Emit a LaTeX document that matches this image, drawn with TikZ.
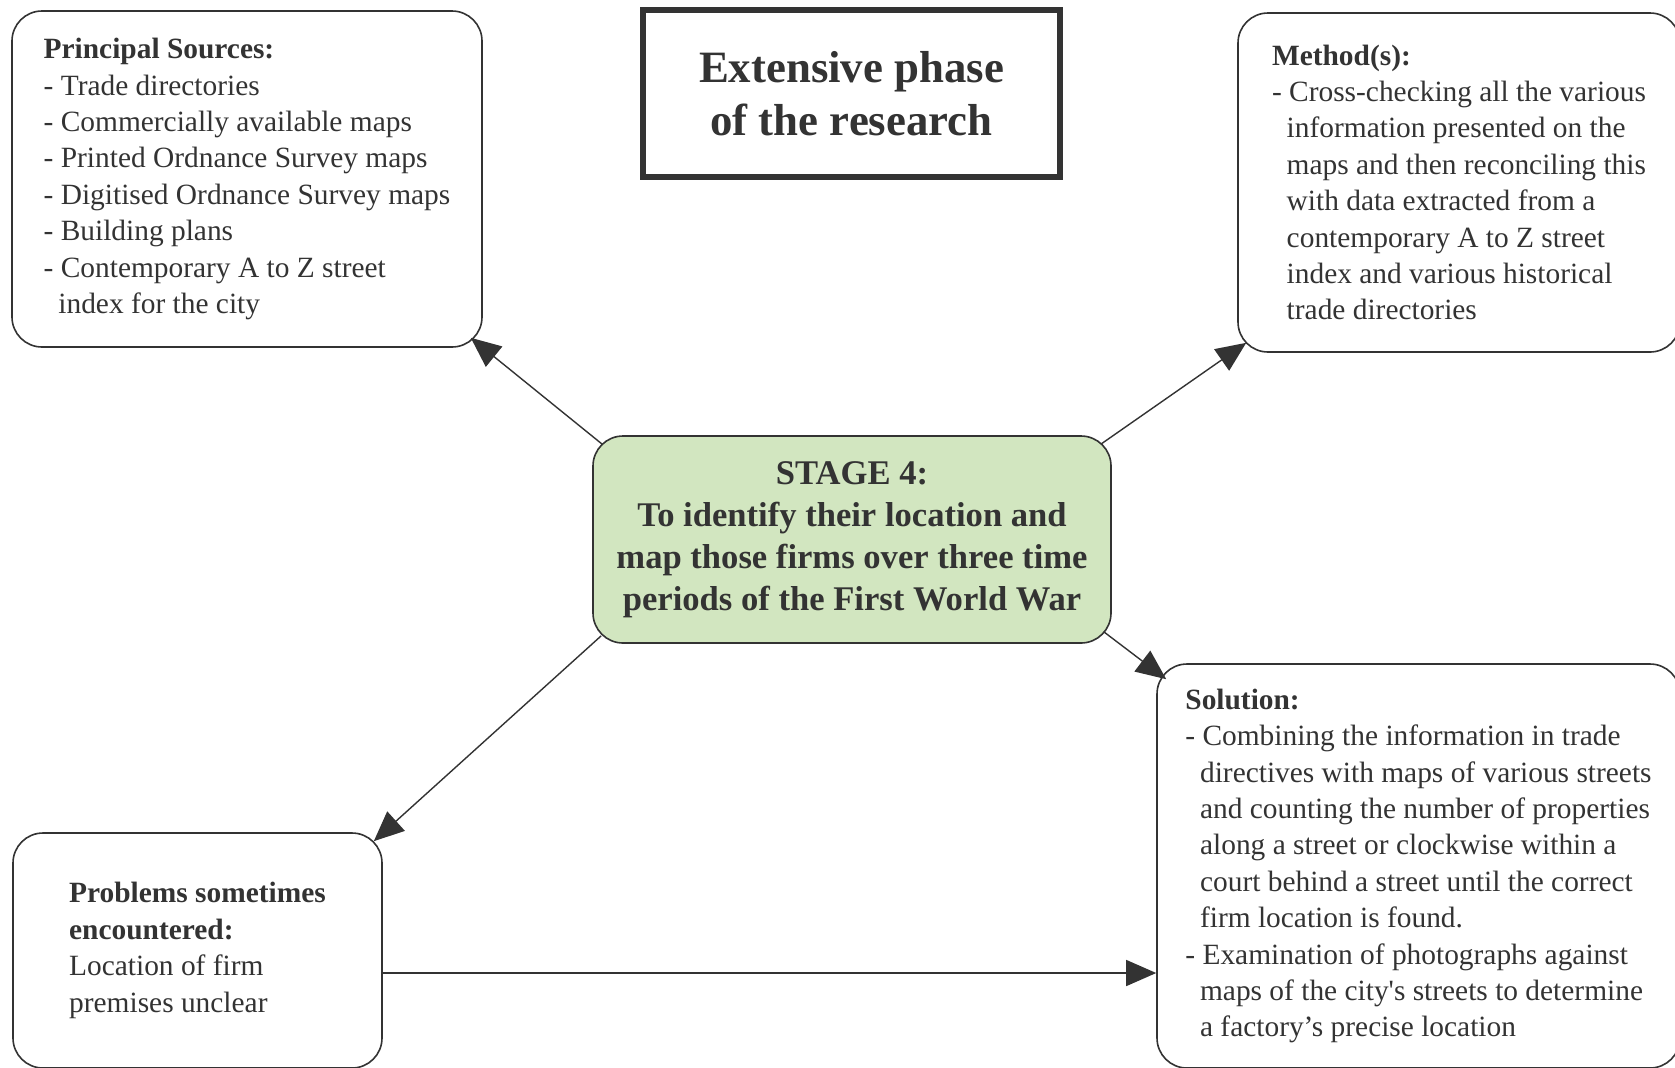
\documentclass[tikz,border=0pt]{standalone}
\usepackage{fontspec}
\setmainfont{Liberation Serif}
\usepackage{tikz}
\usepackage{xcolor}
\usetikzlibrary{arrows.meta}

\definecolor{inkgray}{HTML}{333333}
\definecolor{stagegreen}{HTML}{D2E6C0}
\newcommand{\contline}{\hspace*{0.5em}}

\begin{document}
\begin{tikzpicture}[x=0.5pt, y=-0.5pt,
    textbox/.style={draw=inkgray, line width=0.8pt, rounded corners=15pt,
      align=left, text=inkgray, inner xsep=6pt, inner ysep=0pt,
      font=\fontsize{14.7pt}{18.2pt}\selectfont},
    stagebox/.style={draw=inkgray, line width=0.8pt, rounded corners=15pt,
      fill=stagegreen, align=center, text=inkgray, inner sep=0pt,
      minimum width=259pt, minimum height=103.5pt,
      font=\bfseries\fontsize{17.3pt}{21pt}\selectfont},
    titlebox/.style={draw=inkgray, line width=3pt, align=center, text=inkgray,
      inner sep=0pt, minimum width=208.5pt, minimum height=83.5pt,
      font=\bfseries\fontsize{22.4pt}{26.7pt}\selectfont},
    link/.style={draw=inkgray, line width=0.7pt,
      -{Triangle[length=15pt, width=13pt]}}]
  \clip (0,0) rectangle (1675,1067);
  \fill[white] (0,0) rectangle (1675,1067);

  % --- boxes ----------------------------------------------------------
  \node[titlebox] (title) at (851.5,93.5) {Extensive phase\\of the research};
  \node[stagebox] (stage) at (852,539.5) {STAGE 4:\\To identify their location and\\
        map those firms over three time\\periods of the First World War};
  \node[textbox, minimum width=235pt, minimum height=168pt]
       (sources) at (247,179) {\textbf{Principal Sources:}\\
        - Trade directories\\
        - Commercially available maps\\
        - Printed Ordnance Survey maps\\
        - Digitised Ordnance Survey maps\\
        - Building plans\\
        - Contemporary A to Z street\\
        \contline index for the city};
  \node[textbox, minimum width=221pt, minimum height=169.5pt]
       (method) at (1459,182.5) {\textbf{Method(s):}\\
        - Cross-checking all the various\\
        \contline information presented on the\\
        \contline maps and then reconciling this\\
        \contline with data extracted from a\\
        \contline contemporary A to Z street\\
        \contline index and various historical\\
        \contline trade directories};
  \node[textbox, minimum width=261.5pt, minimum height=202pt]
       (solution) at (1418.5,866) {\textbf{Solution:}\\
        - Combining the information in trade\\
        \contline directives with maps of various streets\\
        \contline and counting the number of properties\\
        \contline along a street or clockwise within a\\
        \contline court behind a street until the correct\\
        \contline firm location is found.\\
        - Examination of photographs against\\
        \contline maps of the city\textquotesingle s streets to determine\\
        \contline a factory’s precise location};
  \node[textbox, minimum width=184.5pt, minimum height=117.5pt]
       (problems) at (197.5,950.5) {\textbf{Problems sometimes}\\
        \textbf{encountered:}\\
        Location of firm\\
        premises unclear};

  % --- connectors -----------------------------------------------------
  \draw[link] ([xshift=5pt,yshift=-4.5pt]stage.north west)
           -- ([xshift=-6pt,yshift=5pt]sources.south east);
  \draw[link] ([xshift=-5.5pt,yshift=-4.5pt]stage.north east)
           -- ([xshift=4.5pt,yshift=5pt]method.south west);
  \draw[link] ([xshift=-4pt,yshift=6pt]stage.south east)
           -- ([xshift=5pt,yshift=-8pt]solution.north west);
  \draw[link] ([xshift=4.5pt,yshift=4pt]stage.south west)
           -- ([xshift=-4.5pt,yshift=-4.5pt]problems.north east);
  \draw[link] ([yshift=-11.25pt]problems.east)
           -- ([yshift=-11.25pt]problems.east -| solution.west);
\end{tikzpicture}
\end{document}
